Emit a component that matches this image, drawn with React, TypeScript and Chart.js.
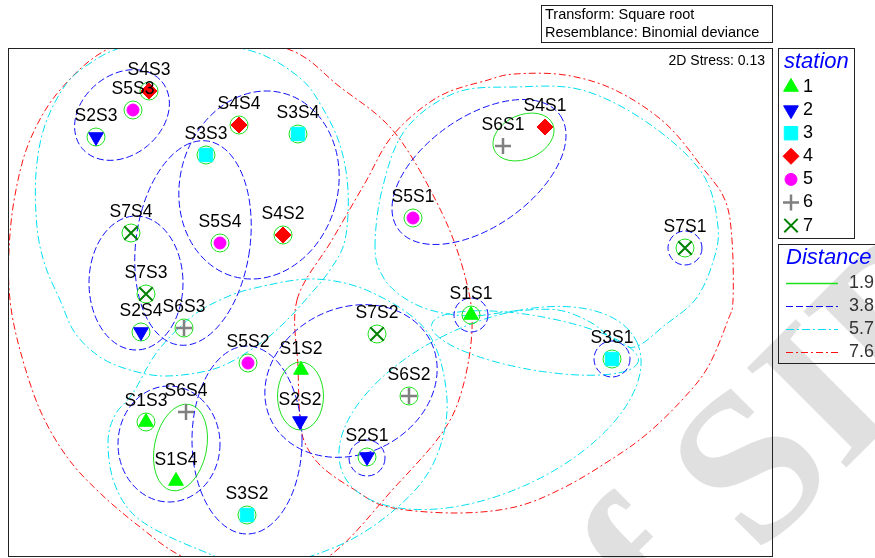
import React, { useEffect, useRef } from 'react';
import { Chart, registerables } from 'chart.js';
Chart.register(...registerables);

const FONT = '"Liberation Sans", Arial, Helvetica, sans-serif';

// ---- data (MDS configuration; x to the right, y downward) ----
const stations = ['1', '2', '3', '4', '5', '6', '7'];
const sampleNames = ['S1S1', 'S1S2', 'S1S3', 'S1S4', 'S2S1', 'S2S2', 'S2S3', 'S2S4', 'S3S1', 'S3S2', 'S3S3', 'S3S4', 'S4S1', 'S4S2', 'S4S3', 'S4S4', 'S5S1', 'S5S2', 'S5S3', 'S5S4', 'S6S1', 'S6S2', 'S6S3', 'S6S4', 'S7S1', 'S7S2', 'S7S3', 'S7S4'];
const sampleStation = [1, 1, 1, 1, 2, 2, 2, 2, 3, 3, 3, 3, 4, 4, 4, 4, 5, 5, 5, 5, 6, 6, 6, 6, 7, 7, 7, 7];
const sampleX = [471, 301, 146, 176, 367, 300, 96, 141, 612, 247, 206, 298, 545, 283, 149, 239, 413, 248, 133, 220, 503, 409, 184, 186, 685, 377, 146, 131];
const sampleY = [315, 370, 422, 481, 457, 421, 137, 332, 359, 515, 155, 134, 127, 235, 91, 125, 218, 363, 110, 243, 146, 396, 328, 412, 248, 334, 294, 233];
// samples not yet joined at distance 1.9 (drawn with a small ring)
const singletons19 = ['S1S1', 'S1S3', 'S2S1', 'S2S3', 'S2S4', 'S3S1', 'S3S2', 'S3S3', 'S3S4', 'S4S2', 'S4S3', 'S4S4', 'S5S1', 'S5S2', 'S5S3', 'S5S4', 'S6S2', 'S6S3', 'S7S1', 'S7S2', 'S7S3', 'S7S4'];

const distanceLevels = ['1.9', '3.8', '5.7', '7.6'];
// ellipse contours: [cx, cy, rx, ry, rotationDeg]
const ellipses19 = [[523.5, 137, 32, 22, -24], [300.5, 396, 23, 34, 0], [180.5, 447.5, 26, 44, 12]];
const ellipses38 = [[122, 115, 52, 40, -40], [259, 185, 79, 95, 15], [193, 243, 57, 103, 8], [136, 283, 47, 67, 0], [479, 172, 99, 55, -35], [471, 315, 17, 17, 0], [612, 359, 18, 18, 0], [685, 248, 17, 17, 0], [367, 458, 18, 18, 0], [351, 381, 89, 73, -26], [247, 440, 55, 94, 0], [169, 444, 51, 58, 0]];
const ellipses57 = [[535, 343, 105, 27, 10], [490, 408, 161, 85, -24]];
// free-form contours: closed smooth curves through these points
const paths57 = [
  [[185, 40], [255, 52], [300, 78], [322, 107], [340, 145], [348, 190], [345, 240], [330, 270], [308, 297], [285, 322], [258, 345], [217, 368], [167, 376], [130, 370], [100, 357], [75, 333], [60, 300], [45, 265], [37, 227], [36, 173], [45, 125], [67, 83], [95, 60], [120, 48], [150, 42]],
  [[108, 443], [115, 415], [133, 393], [157, 352], [190, 318], [220, 300], [255, 288], [315, 279], [373, 293], [428, 333], [447, 400], [435, 460], [400, 505], [340, 545], [260, 567], [200, 550], [140, 520], [115, 485]],
  [[375, 247], [382, 190], [405, 130], [455, 93], [515, 87], [582, 90], [648, 123], [702, 173], [718, 227], [712, 265], [695, 300], [665, 325], [635, 347], [612, 338], [590, 322], [558, 310], [515, 311], [471, 316], [430, 310], [400, 295], [382, 275]],
];
const paths76 = [
  [[110, 48], [180, 34], [285, 48], [340, 87], [395, 133], [442, 213], [466, 280], [472, 330], [462, 390], [442, 433], [395, 487], [328, 557], [255, 585], [183, 557], [140, 527], [100, 493], [67, 457], [40, 410], [20, 350], [10, 300], [9, 250], [15, 195], [30, 140], [60, 90]],
  [[297, 300], [332, 240], [365, 183], [393, 135], [438, 97], [488, 80], [515, 74], [565, 75], [615, 90], [665, 123], [702, 167], [725, 200], [732, 240], [733, 300], [728, 320], [708, 367], [682, 400], [648, 433], [615, 457], [565, 487], [515, 507], [455, 513], [388, 507], [355, 490], [322, 467], [305, 443], [300, 417], [298, 367]],
];

// ---- styles ----
const levelColors = ['rgb(30,225,30)', '#1010ff', '#00e0f0', '#ff1010'];
const levelDash = [[], [7, 3], [8, 3, 2, 3], [7, 3, 2, 3]];
const stationStyles = [
  { pointStyle: 'triangle', rotation: 0, radius: 8.5, fill: '#00ff00', stroke: '#00ff00', width: 1 },
  { pointStyle: 'triangle', rotation: 180, radius: 8.5, fill: '#0000ff', stroke: '#0000ff', width: 1 },
  { pointStyle: 'rect', rotation: 0, radius: 9.5, fill: '#00ffff', stroke: '#00ffff', width: 1 },
  { pointStyle: 'rectRot', rotation: 0, radius: 8, fill: '#ff0000', stroke: '#ff0000', width: 1 },
  { pointStyle: 'circle', rotation: 0, radius: 6, fill: '#ff00ff', stroke: '#ff00ff', width: 1 },
  { pointStyle: 'cross', rotation: 0, radius: 8, fill: '#808080', stroke: '#808080', width: 2.5 },
  { pointStyle: 'crossRot', rotation: 0, radius: 9.5, fill: '#008000', stroke: '#008000', width: 2 },
];

function smoothClosed(ctx: CanvasRenderingContext2D, pts: number[][]) {
  const n = pts.length;
  ctx.beginPath();
  ctx.moveTo(pts[0][0], pts[0][1]);
  for (let i = 0; i < n; i++) {
    const p0 = pts[(i - 1 + n) % n], p1 = pts[i], p2 = pts[(i + 1) % n], p3 = pts[(i + 2) % n];
    ctx.bezierCurveTo(
      p1[0] + (p2[0] - p0[0]) / 6, p1[1] + (p2[1] - p0[1]) / 6,
      p2[0] - (p3[0] - p1[0]) / 6, p2[1] - (p3[1] - p1[1]) / 6,
      p2[0], p2[1]);
  }
  ctx.closePath();
}

function drawMarker(ctx: CanvasRenderingContext2D, st: any, x: number, y: number) {
  const r = st.radius;
  ctx.save();
  ctx.fillStyle = st.fill;
  ctx.strokeStyle = st.stroke;
  ctx.lineWidth = st.width;
  ctx.beginPath();
  if (st.pointStyle === 'triangle') {
    const s = st.rotation === 180 ? -1 : 1;
    ctx.moveTo(x, y - s * r);
    ctx.lineTo(x + r * Math.sqrt(3) / 2, y + s * r / 2);
    ctx.lineTo(x - r * Math.sqrt(3) / 2, y + s * r / 2);
    ctx.closePath(); ctx.fill(); ctx.stroke();
  } else if (st.pointStyle === 'rect') {
    const h = r * Math.SQRT1_2;
    ctx.rect(x - h, y - h, 2 * h, 2 * h); ctx.fill(); ctx.stroke();
  } else if (st.pointStyle === 'rectRot') {
    ctx.moveTo(x - r, y); ctx.lineTo(x, y - r); ctx.lineTo(x + r, y); ctx.lineTo(x, y + r);
    ctx.closePath(); ctx.fill(); ctx.stroke();
  } else if (st.pointStyle === 'circle') {
    ctx.arc(x, y, r, 0, Math.PI * 2); ctx.fill(); ctx.stroke();
  } else if (st.pointStyle === 'cross') {
    ctx.moveTo(x - r, y); ctx.lineTo(x + r, y); ctx.moveTo(x, y - r); ctx.lineTo(x, y + r); ctx.stroke();
  } else {
    const h = r * Math.SQRT1_2;
    ctx.moveTo(x - h, y - h); ctx.lineTo(x + h, y + h); ctx.moveTo(x + h, y - h); ctx.lineTo(x - h, y + h); ctx.stroke();
  }
  ctx.restore();
}

const mdsPlugin = {
  id: 'mds',
  beforeDraw(chart: any) {
    const ctx: CanvasRenderingContext2D = chart.ctx;
    ctx.save();
    ctx.translate(592, 722);
    ctx.rotate(-Math.PI / 4);
    ctx.font = 'bold 215px "Liberation Serif", "DejaVu Serif", serif';
    ctx.fillStyle = 'rgba(0,0,0,0.12)';
    ctx.textBaseline = 'alphabetic';
    ctx.fillText('of SID', 0, 0);
    ctx.restore();
  },
  beforeDatasetsDraw(chart: any) {
    const ctx: CanvasRenderingContext2D = chart.ctx;
    const xs = chart.scales.x, ys = chart.scales.y;
    const ca = chart.chartArea;
    const kx = Math.abs(xs.getPixelForValue(1) - xs.getPixelForValue(0));
    const ky = Math.abs(ys.getPixelForValue(1) - ys.getPixelForValue(0));
    const toPx = (p: number[]) => [xs.getPixelForValue(p[0]), ys.getPixelForValue(p[1])];
    ctx.save();
    ctx.beginPath();
    ctx.rect(ca.left, ca.top, ca.right - ca.left, ca.bottom - ca.top);
    ctx.clip();
    const ell = (e: number[], lvl: number) => {
      ctx.strokeStyle = levelColors[lvl];
      ctx.setLineDash(levelDash[lvl]);
      ctx.lineWidth = 1;
      ctx.beginPath();
      ctx.ellipse(xs.getPixelForValue(e[0]), ys.getPixelForValue(e[1]), e[2] * kx, e[3] * ky, (e[4] * Math.PI) / 180, 0, Math.PI * 2);
      ctx.stroke();
    };
    const path = (pts: number[][], lvl: number) => {
      ctx.strokeStyle = levelColors[lvl];
      ctx.setLineDash(levelDash[lvl]);
      ctx.lineWidth = 1;
      smoothClosed(ctx, pts.map(toPx));
      ctx.stroke();
    };
    paths76.forEach((p) => path(p, 3));
    paths57.forEach((p) => path(p, 2));
    ellipses57.forEach((e) => ell(e, 2));
    ellipses38.forEach((e) => ell(e, 1));
    ellipses19.forEach((e) => ell(e, 0));
    sampleNames.forEach((n, i) => {
      if (singletons19.indexOf(n) >= 0) ell([sampleX[i], sampleY[i], 9, 9, 0], 0);
    });
    ctx.restore();
  },
  afterDatasetsDraw(chart: any) {
    const ctx: CanvasRenderingContext2D = chart.ctx;
    const xs = chart.scales.x, ys = chart.scales.y;
    ctx.save();
    ctx.font = '17.5px ' + FONT;
    ctx.fillStyle = '#000';
    ctx.textAlign = 'center';
    ctx.textBaseline = 'middle';
    sampleNames.forEach((n, i) => {
      ctx.fillText(n, xs.getPixelForValue(sampleX[i]), ys.getPixelForValue(sampleY[i]) - 21);
    });
    ctx.restore();
  },
  afterDraw(chart: any) {
    const ctx: CanvasRenderingContext2D = chart.ctx;
    const ca = chart.chartArea;
    ctx.save();
    ctx.strokeStyle = '#222';
    ctx.lineWidth = 1;
    ctx.setLineDash([]);
    ctx.strokeRect(ca.left - 0.5, ca.top + 0.5, ca.right - ca.left, ca.bottom - ca.top - 1);
    // info box
    ctx.strokeRect(541.5, 5.5, 231, 37);
    ctx.fillStyle = '#000';
    ctx.font = '14.5px ' + FONT;
    ctx.textBaseline = 'middle';
    ctx.textAlign = 'left';
    ctx.fillText('Transform: Square root', 545, 14.5);
    ctx.fillText('Resemblance: Binomial deviance', 545, 32.5);
    ctx.font = '14px ' + FONT;
    ctx.textAlign = 'right';
    ctx.fillText('2D Stress: 0.13', ca.right - 8, ca.top + 13);
    // station legend
    const lx = ca.right + 5;
    ctx.strokeRect(lx + 0.5, ca.top + 0.5, 76, 190);
    ctx.textAlign = 'left';
    ctx.fillStyle = '#0000ff';
    ctx.font = 'italic 22px ' + FONT;
    ctx.fillText('station', lx + 6, ca.top + 14);
    ctx.font = '18px ' + FONT;
    stations.forEach((s, k) => {
      const y = ca.top + 39 + k * 23.1;
      drawMarker(ctx, stationStyles[k], lx + 13, y);
      ctx.fillStyle = '#000';
      ctx.fillText(s, lx + 25, y);
    });
    // distance legend
    const dy = ca.top + 196;
    ctx.strokeStyle = '#222';
    ctx.strokeRect(lx + 0.5, dy + 0.5, 120, 119);
    ctx.fillStyle = '#0000ff';
    ctx.font = 'italic 22px ' + FONT;
    ctx.fillText('Distance', lx + 8, dy + 14);
    ctx.font = '18px ' + FONT;
    distanceLevels.forEach((d, k) => {
      const y = dy + 39 + k * 23;
      ctx.strokeStyle = levelColors[k];
      ctx.setLineDash(levelDash[k]);
      ctx.lineWidth = k === 0 ? 1.5 : 1;
      ctx.beginPath();
      ctx.moveTo(lx + 8, y + 0.5);
      ctx.lineTo(lx + 60, y + 0.5);
      ctx.stroke();
      ctx.fillStyle = '#333';
      ctx.fillText(d, lx + 71, y);
    });
    ctx.restore();
  },
};

export default function App() {
  const ref = useRef<HTMLCanvasElement>(null);
  useEffect(() => {
    const datasets = stations.map((s, k) => {
      const st = stationStyles[k];
      const data = sampleNames
        .map((_, i) => (sampleStation[i] === k + 1 ? { x: sampleX[i], y: sampleY[i] } : null))
        .filter((p) => p !== null);
      return {
        label: s,
        data,
        pointStyle: st.pointStyle,
        pointRotation: st.rotation,
        pointRadius: st.radius,
        backgroundColor: st.fill,
        borderColor: st.stroke,
        borderWidth: st.width,
        showLine: false,
      };
    });
    const chart = new Chart(ref.current as HTMLCanvasElement, {
      type: 'scatter',
      data: { datasets: datasets as any },
      options: {
        animation: false,
        responsive: false,
        devicePixelRatio: 1,
        events: [],
        layout: { autoPadding: false, padding: { left: 9, right: 102, top: 48, bottom: 1 } },
        scales: {
          x: { type: 'linear', min: 9, max: 773, display: false },
          y: { type: 'linear', min: 48, max: 557, reverse: true, display: false },
        },
        plugins: { legend: { display: false }, tooltip: { enabled: false } },
      } as any,
      plugins: [mdsPlugin as any],
    });
    return () => chart.destroy();
  }, []);
  return (
    <div style={{ position: 'absolute', left: 0, top: 0, width: 875, height: 558, background: '#fff' }}>
      <canvas ref={ref} width={875} height={558} style={{ display: 'block', width: 875, height: 558 }} />
    </div>
  );
}
